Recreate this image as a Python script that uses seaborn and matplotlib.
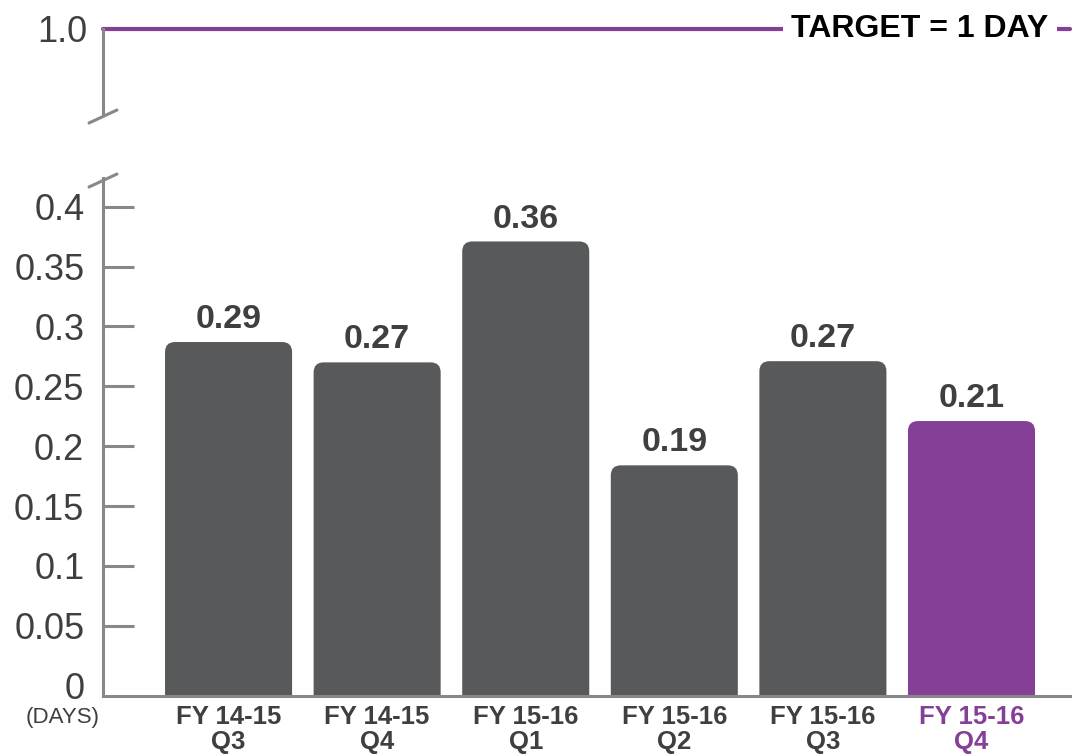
import pandas as pd
import matplotlib.pyplot as plt
import seaborn as sns
from matplotlib.patches import FancyBboxPatch
from matplotlib.lines import Line2D

# datos
quarters = ['FY 14-15\nQ3', 'FY 14-15\nQ4', 'FY 15-16\nQ1',
            'FY 15-16\nQ2', 'FY 15-16\nQ3', 'FY 15-16\nQ4']
bar_heights = [0.287, 0.270, 0.371, 0.184, 0.271, 0.221]
value_labels = ['0.29', '0.27', '0.36', '0.19', '0.27', '0.21']
target = 1.0
low_ticks = [0, 0.05, 0.1, 0.15, 0.2, 0.25, 0.3, 0.35, 0.4]
low_tick_labels = ['0', '0.05', '0.1', '0.15', '0.2', '0.25', '0.3', '0.35', '0.4']

GRAY = '#58595b'
PURPLE = '#843f96'
AXIS = '#88888b'
TEXT = '#3f3f41'

sns.set_style('white')
plt.rcParams['font.family'] = ['Liberation Sans', 'DejaVu Sans']

df = pd.DataFrame({'quarter': quarters, 'days': bar_heights})
colors = [GRAY] * 5 + [PURPLE]

W, H = 1081, 754
fig = plt.figure(figsize=(W / 100, H / 100), dpi=100)
ax = fig.add_axes([103 / W, 1 - 695.7 / H, (1070 - 103) / W, (695.7 - 178) / H])
ax_top = fig.add_axes([103 / W, 1 - 113 / H, (1070 - 103) / W, (113 - 29) / H])

sns.barplot(data=df, x='quarter', y='days', hue='quarter', palette=colors,
            legend=False, width=0.855, saturation=1, ax=ax)

xlim = (-0.845, 5.663)
ylim = (-0.0084, 0.424)
ax.set_xlim(xlim)
ax.set_ylim(ylim)

# barras con esquinas superiores redondeadas
px_x = (1070 - 103) / (xlim[1] - xlim[0])
px_y = (695.7 - 178) / (ylim[1] - ylim[0])
r = 10
for p in list(ax.patches):
    x0, w, h = p.get_x(), p.get_width(), p.get_height()
    fc = p.get_facecolor()
    p.remove()
    base = ylim[0] - 0.05
    box = FancyBboxPatch((x0, base), w, h - base,
                         boxstyle=f'round,pad=0,rounding_size={r / px_x}',
                         mutation_aspect=px_x / px_y, fc=fc, ec='none')
    ax.add_patch(box)

for i, (h, lab) in enumerate(zip(bar_heights, value_labels)):
    ax.annotate(lab, (i, h), xytext=(0, 5), textcoords='offset points',
                ha='center', va='bottom', fontsize=24.5, fontweight='bold', color=TEXT)

ax.set_yticks(low_ticks, low_tick_labels)
ax.tick_params(axis='y', left=True, direction='in', length=22, width=2.2, color=AXIS,
               labelsize=26, labelcolor=TEXT, pad=13.5)
ax.yaxis.get_major_ticks()[0].tick1line.set_visible(False)
ax.tick_params(axis='x', length=0, pad=7, labelsize=18.5, labelcolor=TEXT)
for lbl in ax.get_xticklabels():
    lbl.set_fontweight('bold')
    lbl.set_linespacing(1.05)
ax.get_xticklabels()[-1].set_color(PURPLE)
ax.set_xlabel('')
ax.set_ylabel('')
sns.despine(ax=ax)
for s in ['left', 'bottom']:
    ax.spines[s].set_color(AXIS)
    ax.spines[s].set_linewidth(2.2)

fig.text(100 / W, 1 - 718 / H, '(DAYS)', ha='right', va='center', fontsize=16, color=TEXT)

# parte superior: objetivo
ax_top.set_xlim(xlim)
ax_top.set_ylim(0.9, target)
ax_top.axhline(target, color=PURPLE, lw=3, clip_on=False)
ax_top.set_yticks([target], ['1.0'])
ax_top.set_xticks([])
ax_top.tick_params(axis='y', length=0, pad=11.5, labelsize=26, labelcolor=TEXT)
sns.despine(ax=ax_top, bottom=True)
ax_top.spines['left'].set_color(AXIS)
ax_top.spines['left'].set_linewidth(2.2)
ax_top.text(0.845, target, 'TARGET = 1 DAY', transform=ax_top.get_yaxis_transform(),
            ha='center', va='center', fontsize=23, fontweight='bold', color='black',
            bbox=dict(facecolor='white', edgecolor='none', pad=6), clip_on=False)

# marcas de corte del eje
for yy in [(123, 110), (187, 174)]:
    fig.add_artist(Line2D([89 / W, 117 / W], [1 - yy[0] / H, 1 - yy[1] / H],
                          transform=fig.transFigure, color=AXIS, lw=2.2))

fig.savefig('out.png', dpi=100)
